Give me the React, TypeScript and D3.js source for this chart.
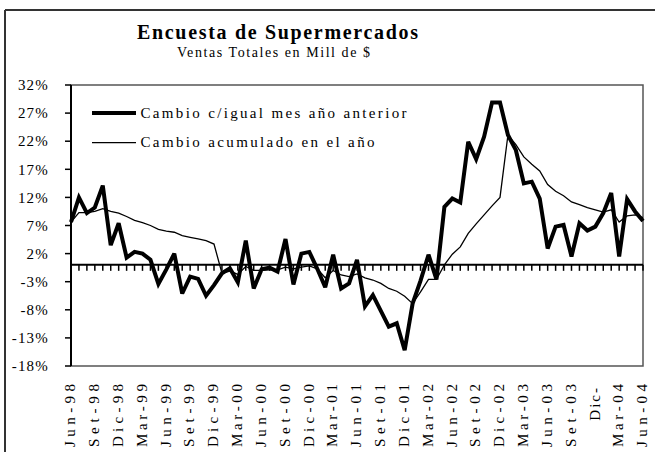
import * as d3 from "d3";

// monthly series, Jun-98 .. Jun-04 (73 months)
const cambioMes = [
  7.6, 12.0, 9.2, 10.2, 14.1, 3.5, 7.4, 1.3, 2.3, 2.0, 0.9, -3.4, -0.8, 2.0,
  -5.1, -2.1, -2.5, -5.5, -3.6, -1.5, -0.6, -3.1, 4.3, -4.2, -0.8, -0.5, -1.2,
  4.6, -3.5, 2.0, 2.3, -0.7, -4.0, 1.8, -4.2, -3.3, 0.9, -7.4, -5.4, -8.2,
  -11.0, -10.4, -15.2, -6.9, -2.8, 1.8, -2.6, 10.3, 11.8, 11.1, 21.9, 18.8,
  22.8, 28.9, 28.9, 23.1, 20.4, 14.5, 14.8, 11.8, 2.9, 6.8, 7.1, 1.5, 7.4, 6.1,
  6.8, 9.2, 12.8, 1.5, 11.7, 9.5, 7.8,
];

const cambioAcum = [
  7.6, 9.3, 9.3, 9.5, 10.0, 9.5, 9.2, 8.6, 7.9, 7.5, 7.0, 6.3, 6.0, 5.8, 5.2,
  4.9, 4.6, 4.3, 3.7, -1.5, -1.1, -1.7, -0.3, -1.0, -1.0, -0.9, -0.9, -0.4,
  -0.7, -0.4, -0.2, -0.7, -2.3, -1.0, -1.8, -2.1, -1.6, -2.3, -2.7, -3.3,
  -4.2, -4.7, -5.6, -6.9, -4.8, -2.6, -2.6, 0.0, 1.9, 3.2, 5.6, 7.3, 8.9,
  10.5, 12.0, 23.1, 21.4, 19.2, 17.9, 16.7, 14.3, 13.1, 12.3, 11.2, 10.7, 10.2,
  9.8, 9.4, 9.8, 7.6, 8.7, 8.9, 8.4,
];

// one label every third month
const xLabels = [
  "Jun-98", "Set-98", "Dic-98", "Mar-99", "Jun-99", "Set-99", "Dic-99",
  "Mar-00", "Jun-00", "Set-00", "Dic-00", "Mar-01", "Jun-01", "Set-01",
  "Dic-01", "Mar-02", "Jun-02", "Set-02", "Dic-02", "Mar-03", "Jun-03",
  "Set-03", "Dic-", "Mar-04", "Jun-04",
];

const yTicks = [-18, -13, -8, -3, 2, 7, 12, 17, 22, 27, 32];

const seriesNames = [
  "Cambio c/igual mes año anterior",
  "Cambio acumulado en el año",
];

const title = "Encuesta de Supermercados";
const subtitle = "Ventas Totales en Mill de $";

const serif = "'Liberation Serif', 'Times New Roman', serif";

export default function App() {
  const width = 655;
  const height = 452;
  const plot = { left: 71, right: 643, top: 85, bottom: 366 };

  const x = d3
    .scaleLinear()
    .domain([0, cambioMes.length - 1])
    .range([plot.left, plot.right]);
  const y = d3.scaleLinear().domain([-18, 32]).range([plot.bottom, plot.top]);

  const line = d3
    .line<number>()
    .x((_, i) => x(i))
    .y((d) => y(d));

  const months = d3.range(cambioMes.length);

  return (
    <svg
      width={width}
      height={height}
      style={{ position: "absolute", left: 0, top: 0, background: "#fff" }}
    >
      {/* outer frame */}
      <line x1={5} y1={10} x2={655} y2={10} stroke="#333" strokeWidth={2} />
      <line x1={5} y1={10} x2={5} y2={452} stroke="#333" strokeWidth={2} />

      {/* titles */}
      <text
        x={277.5}
        y={38.5}
        textAnchor="middle"
        fontFamily={serif}
        fontWeight="bold"
        fontSize={20}
        textLength={281}
        lengthAdjust="spacing"
      >
        {title}
      </text>
      <text
        x={273.5}
        y={57}
        textAnchor="middle"
        fontFamily={serif}
        fontSize={14}
        textLength={193}
        lengthAdjust="spacing"
      >
        {subtitle}
      </text>

      {/* plot frame */}
      <rect
        x={plot.left}
        y={plot.top}
        width={plot.right - plot.left}
        height={plot.bottom - plot.top}
        fill="none"
        stroke="#555"
        strokeWidth={1.5}
      />

      {/* y axis */}
      <line
        x1={plot.left}
        y1={plot.top}
        x2={plot.left}
        y2={plot.bottom}
        stroke="#000"
        strokeWidth={2}
      />
      {yTicks.map((t) => (
        <g key={t}>
          <line
            x1={plot.left - 6}
            x2={plot.left}
            y1={y(t)}
            y2={y(t)}
            stroke="#000"
            strokeWidth={1.5}
          />
          <text
            x={49}
            y={y(t)}
            dy="0.35em"
            textAnchor="end"
            fontFamily={serif}
            fontSize={15}
            letterSpacing={1.2}
          >
            {`${t}%`}
          </text>
        </g>
      ))}

      {/* category axis crossing at zero */}
      <line
        x1={plot.left}
        x2={plot.right}
        y1={y(0)}
        y2={y(0)}
        stroke="#000"
        strokeWidth={2}
      />
      {months.map((i) => (
        <line
          key={i}
          x1={x(i)}
          x2={x(i)}
          y1={y(0)}
          y2={y(0) + 6}
          stroke="#000"
          strokeWidth={1.5}
        />
      ))}

      {/* category labels */}
      {xLabels.map((lab, k) => {
        const cx = x(k * 3) - 1;
        const full = lab.length === 6;
        return (
          <text
            key={lab + k}
            transform={`translate(${cx},${full ? 384 : 386}) rotate(-90)`}
            dy="0.35em"
            textAnchor="end"
            fontFamily={serif}
            fontSize={15}
            textLength={full ? 63 : undefined}
            lengthAdjust="spacing"
            letterSpacing={full ? undefined : 2}
          >
            {lab}
          </text>
        );
      })}

      {/* series */}
      <path
        d={line(cambioAcum) ?? ""}
        fill="none"
        stroke="#000"
        strokeWidth={1.3}
      />
      <path
        d={line(cambioMes) ?? ""}
        fill="none"
        stroke="#000"
        strokeWidth={4}
        strokeLinejoin="miter"
        strokeMiterlimit={3}
      />

      {/* legend */}
      <line x1={92} x2={136} y1={113} y2={113} stroke="#000" strokeWidth={4} />
      <text
        x={140.5}
        y={118.3}
        fontFamily={serif}
        fontSize={15}
        textLength={266}
        lengthAdjust="spacing"
      >
        {seriesNames[0]}
      </text>
      <line
        x1={92}
        x2={136}
        y1={142.7}
        y2={142.7}
        stroke="#000"
        strokeWidth={1.3}
      />
      <text
        x={140.5}
        y={147}
        fontFamily={serif}
        fontSize={15}
        textLength={234}
        lengthAdjust="spacing"
      >
        {seriesNames[1]}
      </text>
    </svg>
  );
}
